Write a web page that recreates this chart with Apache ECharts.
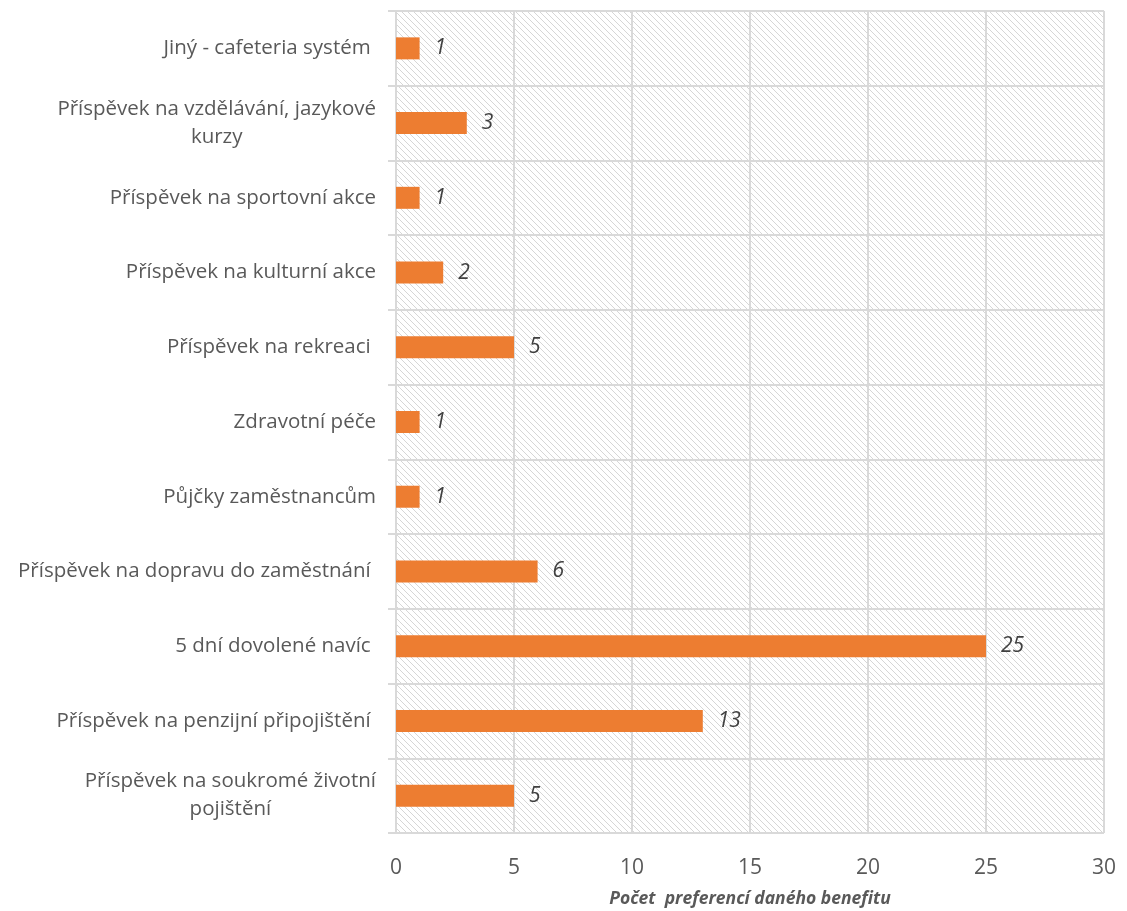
<!DOCTYPE html>
<html>
<head>
<meta charset="utf-8">
<script src="https://cdn.jsdelivr.net/npm/echarts@6/dist/echarts.min.js"></script>
<style>
  html, body { margin: 0; padding: 0; background: #fff; }
  #container { width: 1127px; height: 911px; }
</style>
</head>
<body>
<div id="container"></div>
<script>
// data, bottom to top (category axis starts at the bottom)
var categories = [
    'Příspěvek na soukromé životní\npojištění',
    'Příspěvek na penzijní připojištění ',
    '5 dní dovolené navíc ',
    'Příspěvek na dopravu do zaměstnání ',
    'Půjčky zaměstnancům',
    'Zdravotní péče',
    'Příspěvek na rekreaci ',
    'Příspěvek na kulturní akce',
    'Příspěvek na sportovní akce',
    'Příspěvek na vzdělávání, jazykové\nkurzy',
    'Jiný - cafeteria systém '
];
var counts = [5, 13, 25, 6, 1, 1, 5, 2, 1, 3, 1];
var axisTitle = 'Počet  preferencí daného benefitu';

var FONT = '"Open Sans", sans-serif';

// light downward-diagonal hatch for the plot area
var makeHatch = function () {
    var s = 6;
    var c = document.createElement('canvas');
    c.width = s;
    c.height = s;
    var ctx = c.getContext('2d');
    ctx.fillStyle = '#ffffff';
    ctx.fillRect(0, 0, s, s);
    ctx.fillStyle = '#d6d6d6';
    for (var x = 0; x < s; x++) {
        ctx.fillRect(x, x, 1, 1);
    }
    return c;
};

var option = {
    animation: false,
    grid: {
        left: 396,
        right: 23,
        top: 11,
        bottom: 78,
        containLabel: false,
        outerBoundsMode: 'none',
        show: true,
        borderWidth: 0,
        backgroundColor: { image: makeHatch(), repeat: 'repeat' }
    },
    xAxis: {
        type: 'value',
        min: 0,
        max: 30,
        interval: 5,
        name: axisTitle,
        nameLocation: 'middle',
        nameGap: 57,
        nameTextStyle: {
            fontFamily: FONT,
            fontSize: 17.5,
            fontWeight: 'bold',
            fontStyle: 'italic',
            color: '#595959'
        },
        axisLine: { show: false },
        axisTick: { show: false },
        axisLabel: {
            margin: 25,
            fontFamily: FONT,
            fontSize: 21,
            color: '#595959'
        },
        splitLine: { show: true, lineStyle: { color: '#d9d9d9', width: 2 } }
    },
    yAxis: {
        type: 'category',
        data: categories,
        axisLine: { show: true, lineStyle: { color: '#d9d9d9', width: 2 } },
        axisTick: { show: true, length: 8, lineStyle: { color: '#d9d9d9', width: 2 } },
        splitLine: { show: true, lineStyle: { color: '#d9d9d9', width: 2 } },
        axisLabel: {
            margin: 20,
            formatter: function (v) {
                return v.split('\n').map(function (l) { return '{c|' + l + '}'; }).join('\n');
            },
            rich: {
                c: {
                    align: 'center',
                    fontFamily: FONT,
                    fontSize: 20.5,
                    lineHeight: 28,
                    color: '#595959'
                }
            }
        }
    },
    series: [{
        type: 'bar',
        data: counts,
        barWidth: 22,
        itemStyle: { color: '#ED7D31' },
        label: {
            show: true,
            position: 'right',
            distance: 15,
            fontFamily: FONT,
            fontSize: 21,
            fontStyle: 'italic',
            color: '#404040'
        }
    }]
};

var myChart = echarts.init(document.getElementById('container'));
myChart.setOption(option);
</script>
</body>
</html>
